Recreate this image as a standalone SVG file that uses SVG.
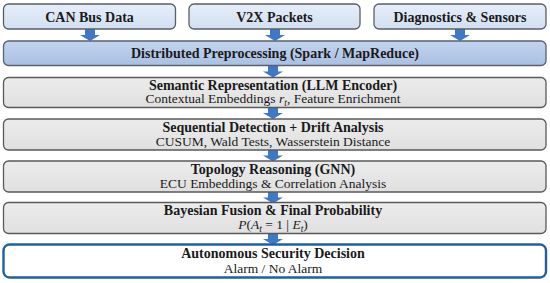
<svg xmlns="http://www.w3.org/2000/svg" width="550" height="283" viewBox="0 0 550 283">
<defs>
<linearGradient id="gTop" x1="0" y1="0" x2="0" y2="1"><stop offset="0" stop-color="#e6eef9"/><stop offset="1" stop-color="#d2dff1"/></linearGradient>
<linearGradient id="gSpark" x1="0" y1="0" x2="0" y2="1"><stop offset="0" stop-color="#c3d4ee"/><stop offset="1" stop-color="#a9c0e2"/></linearGradient>
<linearGradient id="gGray" x1="0" y1="0" x2="0" y2="1"><stop offset="0" stop-color="#ececec"/><stop offset="1" stop-color="#e0e0e0"/></linearGradient>
<path id="arr" d="M-5,0 H5 V6 H10 L0,12 L-10,6 H-5 Z"/>
</defs>
<style>
.src{fill:url(#gTop);stroke:#5a5f66;stroke-width:1.3}
.spark{fill:url(#gSpark);stroke:#5a6170;stroke-width:1.3}
.gray{fill:url(#gGray);stroke:#5a5a5a;stroke-width:1.3}
.final{fill:#ffffff;stroke:#1f5fa3;stroke-width:2.4}
.t{font-family:"Liberation Serif",serif;font-weight:bold;font-size:14px;fill:#1a1a1a;text-anchor:middle}
.s{font-family:"Liberation Serif",serif;font-size:13.5px;fill:#1a1a1a;text-anchor:middle}
.m{font-style:italic}
.arrow{fill:#3d79c6}
</style>
<g id="connectors">
<use href="#arr" class="arrow" x="90" y="29"/>
<use href="#arr" class="arrow" x="275" y="29"/>
<use href="#arr" class="arrow" x="460" y="29"/>
<use href="#arr" class="arrow" x="273" y="65.5"/>
<use href="#arr" class="arrow" x="273" y="107"/>
<use href="#arr" class="arrow" x="273" y="149.5"/>
<use href="#arr" class="arrow" x="273" y="191.5"/>
<use href="#arr" class="arrow" x="273" y="233"/>
</g>
<g id="can">
<rect class="src" x="3.5" y="4" width="172" height="25" rx="5"/>
<text class="t" x="89.5" y="21.5">CAN Bus Data</text>
</g>
<g id="v2x">
<rect class="src" x="189" y="4" width="171" height="25" rx="5"/>
<text class="t" x="274.5" y="21.5">V2X Packets</text>
</g>
<g id="diag">
<rect class="src" x="374" y="4" width="172" height="25" rx="5"/>
<text class="t" x="460" y="21.5">Diagnostics &amp; Sensors</text>
</g>
<g id="spark">
<rect class="spark" x="3.5" y="41" width="542.5" height="24.5" rx="5"/>
<text class="t" x="275" y="57.5">Distributed Preprocessing (Spark / MapReduce)</text>
</g>
<g id="semantic">
<rect class="gray" x="3.5" y="77.5" width="542.5" height="30" rx="5"/>
<text class="t" x="273" y="89.5">Semantic Representation (LLM Encoder)</text>
<text class="s" x="273" y="103">Contextual Embeddings <tspan class="m">r</tspan><tspan font-size="9.5" baseline-shift="-3" class="m">t</tspan>, Feature Enrichment</text>
</g>
<g id="sequential">
<rect class="gray" x="3.5" y="119" width="542.5" height="31" rx="5"/>
<text class="t" x="273" y="131.5">Sequential Detection + Drift Analysis</text>
<text class="s" x="273" y="145.5">CUSUM, Wald Tests, Wasserstein Distance</text>
</g>
<g id="topology">
<rect class="gray" x="3.5" y="161" width="542.5" height="31" rx="5"/>
<text class="t" x="273" y="173.5">Topology Reasoning (GNN)</text>
<text class="s" x="273" y="187.5">ECU Embeddings &amp; Correlation Analysis</text>
</g>
<g id="bayesian">
<rect class="gray" x="3.5" y="202.5" width="542.5" height="31" rx="5"/>
<text class="t" x="273" y="215">Bayesian Fusion &amp; Final Probability</text>
<text class="s" x="273" y="229"><tspan class="m">P</tspan>(<tspan class="m">A</tspan><tspan font-size="9.5" baseline-shift="-3" class="m">t</tspan> = 1 | <tspan class="m">E</tspan><tspan font-size="9.5" baseline-shift="-3" class="m">t</tspan>)</text>
</g>
<g id="decision">
<rect class="final" x="3.5" y="244.5" width="542.5" height="33" rx="6"/>
<text class="t" x="273" y="258">Autonomous Security Decision</text>
<text class="s" x="273" y="272.5">Alarm / No Alarm</text>
</g>
</svg>
